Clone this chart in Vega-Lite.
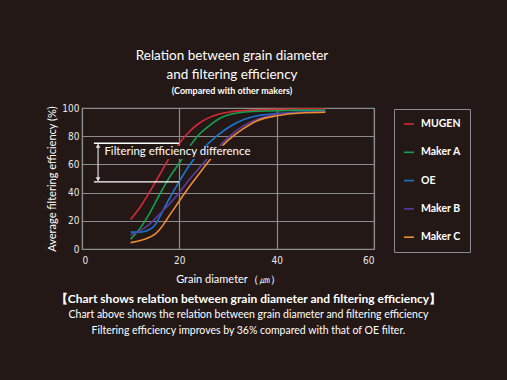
{
  "$schema": "https://vega.github.io/schema/vega-lite/v6.json",
  "background": "#231815",
  "autosize": "pad",
  "padding": {"left": 46, "top": 49, "right": 60, "bottom": 50},
  "config": {
    "font": "Lato",
    "view": {"stroke": "#8c8c8c", "strokeWidth": 1.2},
    "axis": {
      "gridColor": "#8c8c8c", "gridWidth": 1.2, "gridOpacity": 1,
      "domain": false, "ticks": false, "labelOverlap": false,
      "labelColor": "#e8e8e8", "labelFont": "'Liberation Sans Narrow', 'DejaVu Sans Condensed', Roboto",
      "labelFontSize": 10, "titleColor": "#ffffff", "titleFontWeight": "normal", "titleFont": "Lato"
    }
  },
  "title": {
    "text": ["Relation between grain diameter", "and filtering efficiency"],
    "subtitle": "(Compared with other makers)",
    "color": "#ffffff", "subtitleColor": "#ffffff",
    "fontSize": 13.5, "fontWeight": "normal", "lineHeight": 18.5,
    "subtitleFontSize": 9, "subtitleFontWeight": "bold", "subtitlePadding": 6,
    "anchor": "middle", "frame": "group", "dx": 4, "offset": 6, "font": "Lato", "subtitleFont": "Lato"
  },
  "datasets": {
    "curves": [
      {"series": "MUGEN", "d": 10, "eff": 21}, {"series": "MUGEN", "d": 12, "eff": 30}, {"series": "MUGEN", "d": 14, "eff": 41},
      {"series": "MUGEN", "d": 16, "eff": 53}, {"series": "MUGEN", "d": 18, "eff": 65}, {"series": "MUGEN", "d": 20, "eff": 75},
      {"series": "MUGEN", "d": 22, "eff": 83}, {"series": "MUGEN", "d": 24, "eff": 89}, {"series": "MUGEN", "d": 26, "eff": 93},
      {"series": "MUGEN", "d": 28, "eff": 95.5}, {"series": "MUGEN", "d": 30, "eff": 97}, {"series": "MUGEN", "d": 35, "eff": 98.5},
      {"series": "MUGEN", "d": 40, "eff": 99}, {"series": "MUGEN", "d": 45, "eff": 99.5}, {"series": "MUGEN", "d": 50, "eff": 99.5},
      {"series": "Maker A", "d": 10, "eff": 7}, {"series": "Maker A", "d": 12, "eff": 15}, {"series": "Maker A", "d": 14, "eff": 26},
      {"series": "Maker A", "d": 16, "eff": 39}, {"series": "Maker A", "d": 18, "eff": 51}, {"series": "Maker A", "d": 20, "eff": 61},
      {"series": "Maker A", "d": 22, "eff": 72}, {"series": "Maker A", "d": 24, "eff": 81}, {"series": "Maker A", "d": 26, "eff": 87},
      {"series": "Maker A", "d": 28, "eff": 92}, {"series": "Maker A", "d": 30, "eff": 95}, {"series": "Maker A", "d": 35, "eff": 97.5},
      {"series": "Maker A", "d": 40, "eff": 98}, {"series": "Maker A", "d": 45, "eff": 98.5}, {"series": "Maker A", "d": 50, "eff": 98.5},
      {"series": "OE", "d": 10, "eff": 12}, {"series": "OE", "d": 12, "eff": 12}, {"series": "OE", "d": 14, "eff": 14},
      {"series": "OE", "d": 15, "eff": 17}, {"series": "OE", "d": 16, "eff": 23}, {"series": "OE", "d": 18, "eff": 36},
      {"series": "OE", "d": 20, "eff": 48}, {"series": "OE", "d": 22, "eff": 59}, {"series": "OE", "d": 24, "eff": 68},
      {"series": "OE", "d": 26, "eff": 75}, {"series": "OE", "d": 28, "eff": 81}, {"series": "OE", "d": 30, "eff": 86},
      {"series": "OE", "d": 33, "eff": 91.5}, {"series": "OE", "d": 36, "eff": 94.5}, {"series": "OE", "d": 40, "eff": 96},
      {"series": "OE", "d": 45, "eff": 97}, {"series": "OE", "d": 50, "eff": 97.5},
      {"series": "Maker B", "d": 10, "eff": 10}, {"series": "Maker B", "d": 12, "eff": 13}, {"series": "Maker B", "d": 14, "eff": 18},
      {"series": "Maker B", "d": 16, "eff": 25}, {"series": "Maker B", "d": 18, "eff": 32}, {"series": "Maker B", "d": 20, "eff": 40},
      {"series": "Maker B", "d": 22, "eff": 49}, {"series": "Maker B", "d": 24, "eff": 57}, {"series": "Maker B", "d": 26, "eff": 65},
      {"series": "Maker B", "d": 28, "eff": 72}, {"series": "Maker B", "d": 30, "eff": 79}, {"series": "Maker B", "d": 33, "eff": 87},
      {"series": "Maker B", "d": 36, "eff": 92}, {"series": "Maker B", "d": 40, "eff": 95.5}, {"series": "Maker B", "d": 45, "eff": 97},
      {"series": "Maker B", "d": 50, "eff": 97.5},
      {"series": "Maker C", "d": 10, "eff": 4.5}, {"series": "Maker C", "d": 12, "eff": 6}, {"series": "Maker C", "d": 14, "eff": 8.5},
      {"series": "Maker C", "d": 15, "eff": 10.5}, {"series": "Maker C", "d": 16, "eff": 14}, {"series": "Maker C", "d": 18, "eff": 24},
      {"series": "Maker C", "d": 20, "eff": 34}, {"series": "Maker C", "d": 22, "eff": 44}, {"series": "Maker C", "d": 24, "eff": 53},
      {"series": "Maker C", "d": 26, "eff": 62}, {"series": "Maker C", "d": 28, "eff": 70}, {"series": "Maker C", "d": 30, "eff": 77},
      {"series": "Maker C", "d": 33, "eff": 85}, {"series": "Maker C", "d": 36, "eff": 91}, {"series": "Maker C", "d": 40, "eff": 94.5},
      {"series": "Maker C", "d": 45, "eff": 96.5}, {"series": "Maker C", "d": 50, "eff": 97}
    ],
    "hlines": [
      {"d": 2.45, "d2": 20, "eff": 75},
      {"d": 2.45, "d2": 20, "eff": 47.6}
    ],
    "arrow": [
      {"d": 3.3, "eff": 48.5, "eff2": 74.2}
    ],
    "heads": [
      {"d": 3.3, "eff": 73.2, "dir": "up"},
      {"d": 3.3, "eff": 49.4, "dir": "down"}
    ],
    "labelbox": [
      {"d": 4.3, "d2": 34.6, "eff": 63.8, "eff2": 73.2}
    ],
    "label": [
      {"d": 4.6, "eff": 68.5, "text": "Filtering efficiency difference"}
    ]
  },
  "vconcat": [
    {
      "width": 292,
      "height": 141,
      "title": {
        "text": "【Chart shows relation between grain diameter and filtering efficiency】",
        "subtitle": ["Chart above shows the relation between grain diameter and filtering efficiency", "Filtering efficiency improves by 36% compared with that of OE filter."],
        "orient": "bottom", "anchor": "middle", "frame": "bounds", "dx": 38,
        "color": "#ffffff", "subtitleColor": "#ffffff",
        "fontSize": 12, "fontWeight": "bold", "subtitleFontSize": 10.5, "subtitleLineHeight": 16,
        "subtitlePadding": 4, "offset": 10, "font": "Lato", "subtitleFont": "Lato"
      },
      "encoding": {
        "x": {"field": "d", "type": "quantitative", "scale": {"domain": [0, 60]},
              "axis": {"values": [0, 20, 40, 60], "labelOverlap": false, "title": "Grain diameter（㎛）", "titleFontSize": 11, "labelPadding": 6, "titlePadding": 8}},
        "y": {"field": "eff", "type": "quantitative", "scale": {"domain": [0, 100]},
              "axis": {"values": [0, 20, 40, 60, 80, 100], "labelOverlap": false, "title": "Average filtering efficiency (%)", "titleFontSize": 11, "labelPadding": 3, "titlePadding": 4}}
      },
      "layer": [
        {
          "data": {"name": "curves"},
          "mark": {"type": "line", "interpolate": "monotone", "strokeWidth": 1.6},
          "encoding": {
            "color": {"field": "series", "type": "nominal",
              "scale": {"domain": ["MUGEN", "Maker A", "OE", "Maker B", "Maker C"], "range": ["#d42a35", "#13a050", "#1677d0", "#5c3c9c", "#f08c32"]},
              "legend": {"title": null, "orient": "none", "legendX": 312, "legendY": 1,
                "symbolType": "stroke", "symbolSize": 100, "symbolStrokeWidth": 1.6,
                "labelColor": "#ffffff", "labelFontSize": 10.5, "labelFontWeight": "bold", "labelFont": "Lato",
                "labelOffset": 6, "rowPadding": 16.3, "padding": 9, "strokeColor": "#8c8c8c", "symbolOffset": 0,
                "labelLimit": 60}}
          }
        },
        {
          "data": {"name": "labelbox"},
          "mark": {"type": "rect", "color": "#231815"},
          "encoding": {"x2": {"field": "d2"}, "y2": {"field": "eff2"}}
        },
        {
          "data": {"name": "hlines"},
          "mark": {"type": "rule", "color": "#ffffff", "strokeWidth": 1.3},
          "encoding": {"x2": {"field": "d2"}}
        },
        {
          "data": {"name": "arrow"},
          "mark": {"type": "rule", "color": "#c8c8c8", "strokeWidth": 1.3},
          "encoding": {"y2": {"field": "eff2"}}
        },
        {
          "data": {"name": "heads"},
          "mark": {"type": "point", "filled": true, "color": "#e0e0e0", "size": 22, "opacity": 1},
          "encoding": {
            "shape": {"field": "dir", "type": "nominal", "scale": {"domain": ["up", "down"], "range": ["triangle-up", "triangle-down"]}, "legend": null}
          }
        },
        {
          "data": {"name": "label"},
          "mark": {"type": "text", "align": "left", "baseline": "middle", "color": "#ffffff", "fontSize": 11.5, "font": "Lato"},
          "encoding": {"text": {"field": "text"}}
        }
      ]
    }
  ]
}
